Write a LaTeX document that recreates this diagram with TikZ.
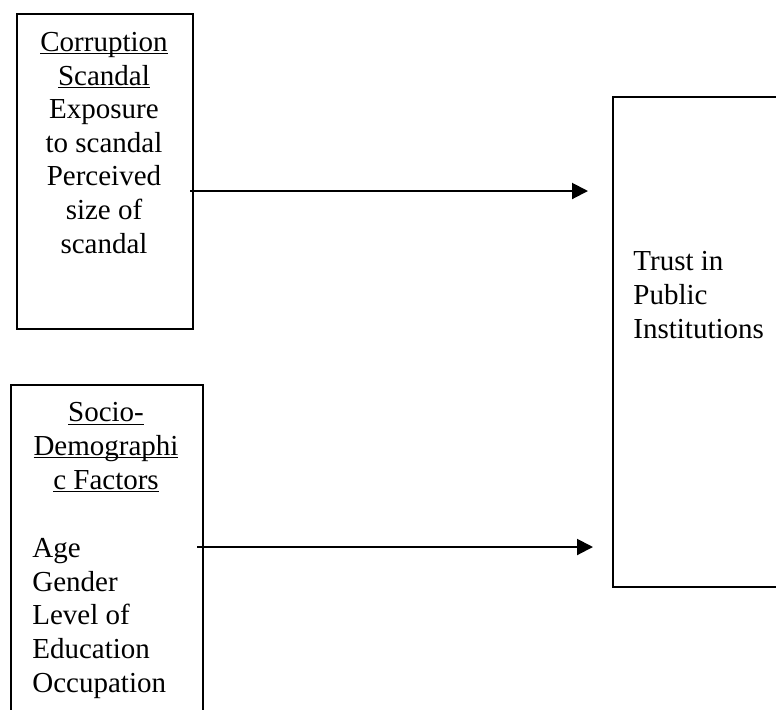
\documentclass[tikz,border=0pt]{standalone}
\usepackage{fontspec}
\setmainfont{Liberation Serif}
\usetikzlibrary{arrows.meta}
\newsavebox{\ulbox}
\newcommand{\ul}[1]{\sbox{\ulbox}{#1}\rlap{\rule[-1.4pt]{\wd\ulbox}{0.55pt}}\usebox{\ulbox}}
\begin{document}
\begin{tikzpicture}[x=0.5pt,y=-0.5pt,
  boxst/.style={draw=black,line width=0.8pt,rectangle,inner sep=0pt},
  txt/.style={inner sep=0pt,font=\fontsize{14.5}{16.8}\selectfont},
  arr/.style={line width=1pt,-{Triangle[length=8pt,width=8pt]}}]
\useasboundingbox (0,0) rectangle (776,709);
\clip (0,0) rectangle (776,709);
% boxes
\node[boxst,minimum width=88pt,minimum height=157.5pt,anchor=north west] (b1) at (16,13) {};
\node[boxst,minimum width=96pt,minimum height=200pt,anchor=north west] (b2) at (10,384) {};
\node[boxst,minimum width=100pt,minimum height=245pt,anchor=north west] (b3) at (612,96) {};
% texts (base anchor = baseline of last line)
\node[txt,align=center,anchor=base] (t1) at (104,253) {\ul{Corruption}\\\ul{Scandal}\\Exposure\\to scandal\\Perceived\\size of\\scandal};
\node[txt,align=center,anchor=base] (t2h) at (106,489) {\ul{Socio-}\\\ul{Demographi}\\\ul{c Factors}};
\node[txt,align=left,anchor=base west] (t2) at (32,692) {Age\\Gender\\Level of\\Education\\Occupation};
\node[txt,align=left,anchor=base west] (t3) at (633,338) {Trust in\\Public\\Institutions};
% arrows
\coordinate (a1s) at (190,191);
\coordinate (a1e) at (588,191);
\coordinate (a2s) at (197,547);
\coordinate (a2e) at (593,547);
\draw[arr] (a1s) -- (a1e);
\draw[arr] (a2s) -- (a2e);
\end{tikzpicture}
\end{document}
